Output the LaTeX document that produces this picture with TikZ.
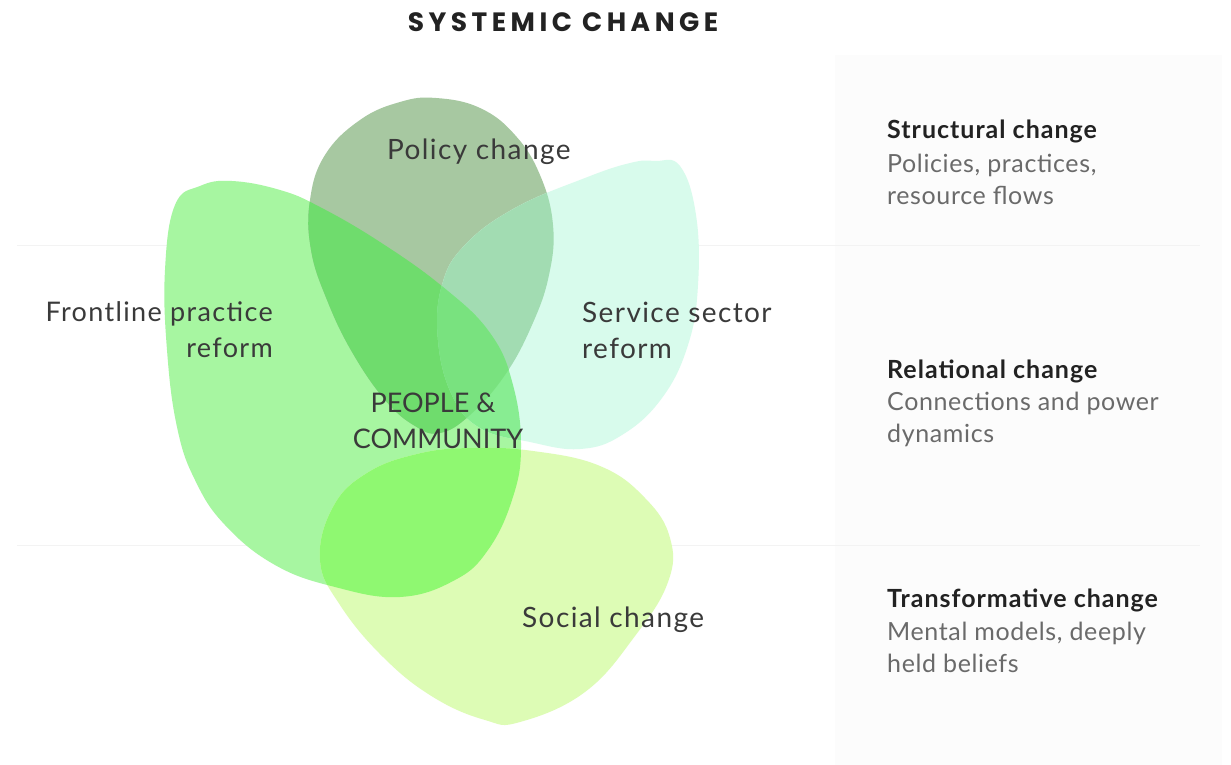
\documentclass[tikz,border=0pt]{standalone}
\usepackage{fontspec}
\setmainfont{Lato}
\newfontfamily\titlefont[LetterSpace=17]{Poppins}
\newfontfamily\labelfont[LetterSpace=5]{Lato}
\newfontfamily\capsfont{Lato}
\newfontfamily\headfont[LetterSpace=4]{Lato}
\newfontfamily\bodyfont[LetterSpace=2.5]{Lato}
\definecolor{cF}{HTML}{A7F6A1}
\definecolor{cP}{HTML}{A7C8A1}
\definecolor{cS}{HTML}{D8FBEC}
\definecolor{cSo}{HTML}{DDFCB5}
\definecolor{cFP}{HTML}{6FDC6D}
\definecolor{cPS}{HTML}{A2DCB2}
\definecolor{cFS}{HTML}{88ED92}
\definecolor{cFPS}{HTML}{79E27F}
\definecolor{cFSo}{HTML}{8FF871}
\definecolor{cSSo}{HTML}{D3F9C8}
\definecolor{cFSSo}{HTML}{8EF682}
\definecolor{panel}{HTML}{FCFCFC}
\definecolor{rule}{HTML}{F3F3F3}
\definecolor{labeltxt}{HTML}{3A3A3A}
\definecolor{headtxt}{HTML}{222222}
\definecolor{greytxt}{HTML}{6A6A6A}
\def\pF{plot[smooth cycle, tension=0.7] coordinates {(232,181) (280,190) (320,207) (380,242) (443,287) (490,333) (513,385) (521,448) (512,500) (488,550) (455,580) (400,597) (335,587) (275,565) (225,525) (195,480) (177,427) (167,350) (165,270) (175,205) (200,186)}}
\def\pP{plot[smooth cycle, tension=0.7] coordinates {(436,98) (480,108) (515,135) (540,175) (553,225) (549,275) (532,325) (505,375) (470,415) (440,433) (415,426) (385,400) (352,352) (327,300) (311,250) (310,200) (325,155) (360,120) (400,102)}}
\def\pS{plot[smooth cycle, tension=0.7] coordinates {(655,161) (680,166) (696,215) (698,285) (688,345) (662,398) (622,435) (580,449) (530,442) (480,428) (452,395) (438,340) (442,285) (465,245) (515,208) (585,178) (630,163)}}
\def\pSo{plot[smooth cycle, tension=0.7] coordinates {(533,451) (600,466) (645,498) (670,538) (668,582) (635,636) (585,692) (520,722) (485,720) (433,697) (383,657) (340,605) (320,560) (333,507) (367,473) (417,454) (470,448)}}
\tikzset{
  petallabel/.style={font=\labelfont\fontsize{28}{36}\selectfont, text=labeltxt, inner sep=0pt, anchor=base west},
  capslabel/.style={font=\capsfont\fontsize{27}{36}\selectfont, text=labeltxt, inner sep=0pt, anchor=base},
  headtext/.style={font=\headfont\fontsize{25}{33}\selectfont\bfseries, text=headtxt, anchor=base west, inner sep=0pt},
  bodytext/.style={font=\bodyfont\fontsize{25}{33}\selectfont, text=greytxt, anchor=base west, inner sep=0pt},
}
\begin{document}
\begin{tikzpicture}[x=1pt,y=-1pt]
\useasboundingbox (0,0) rectangle (1231,765);
\fill[white] (0,0) rectangle (1231,765);
% right panel
\fill[panel] (835,55) rectangle (1222,765);
\draw[rule, line width=1pt] (17,245) -- (1200,245);
\draw[rule, line width=1pt] (17,545) -- (1200,545);
% base petals
\fill[cF] \pF;
\fill[cP] \pP;
\fill[cS] \pS;
\fill[cSo] \pSo;
% pair overlaps
\begin{scope}\clip \pF; \fill[cFP] \pP; \end{scope}
\begin{scope}\clip \pP; \fill[cPS] \pS; \end{scope}
\begin{scope}\clip \pF; \fill[cFS] \pS; \end{scope}
\begin{scope}\clip \pF; \fill[cFSo] \pSo; \end{scope}
\begin{scope}\clip \pS; \fill[cSSo] \pSo; \end{scope}
% triple overlaps
\begin{scope}\clip \pF; \clip \pP; \fill[cFPS] \pS; \end{scope}
\begin{scope}\clip \pF; \clip \pS; \fill[cFSSo] \pSo; \end{scope}
% title
\node[font=\titlefont\fontsize{26.5}{28}\selectfont\bfseries, text=headtxt, inner sep=0pt, anchor=base] (title) at (563,32) {SYSTEMIC CHANGE};
% petal labels
\node[petallabel] (policy) at (387,160) {Policy change};
\node[petallabel, font=\labelfont\fontsize{27}{36}\selectfont, anchor=base east] (frontline1) at (273,321) {Frontline practice};
\node[petallabel, font=\labelfont\fontsize{27}{36}\selectfont, anchor=base east] (frontline2) at (273,357) {reform};
\node[petallabel] (service1) at (582,322) {Service sector};
\node[petallabel] (service2) at (582,358) {reform};
\node[capslabel] (people1) at (433,412) {PEOPLE \&};
\node[capslabel] (people2) at (438,448) {COMMUNITY};
\node[petallabel] (social) at (522,627) {Social change};
% right column
\node[headtext] (h1) at (887,139) {Structural change};
\node[bodytext] (b1a) at (887,172) {Policies, practices,};
\node[bodytext] (b1b) at (887,204) {resource flows};
\node[headtext] (h2) at (887,378) {Relational change};
\node[bodytext] (b2a) at (887,410) {Connections and power};
\node[bodytext] (b2b) at (887,442) {dynamics};
\node[headtext] (h3) at (887,607) {Transformative change};
\node[bodytext] (b3a) at (887,640) {Mental models, deeply};
\node[bodytext] (b3b) at (887,672) {held beliefs};
\end{tikzpicture}
\end{document}
